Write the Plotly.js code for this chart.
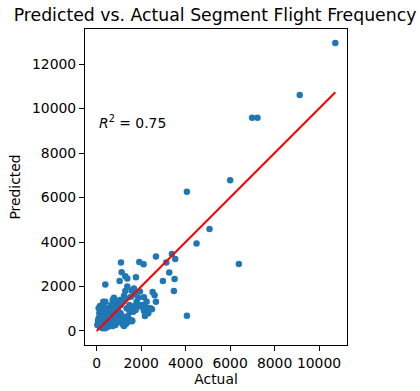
<!DOCTYPE html>
<html>
<head>
<meta charset="utf-8">
<script src="https://cdn.plot.ly/plotly-3.0.1.min.js"></script>
<style>html,body{margin:0;padding:0;background:#fff;}#chart{width:420px;height:391px;}</style>
</head>
<body>
<div id="chart"></div>
<script>
const actual = [10733,9132,6991,7231,6003,4057,5075,4491,6392,4057,3533,3383,2665,3129,3263,3503,2979,3473,2665,2605,2515,2425,2186,2201,2126,2066,1916,2111,1767,1677,1093,1123,1288,1377,1033,389,1751,1587,
1287,1377,1572,1542,1722,1871,1946,1048,1168,1228,1318,1078,958,853,719,779,644,539,599,479,419,329,299,389,225,120,180,269,150,90,240,359,449,539,659,749,838,928,1018,1078,1198,1258,1318,1228,1138,1407,1497,1617,1707,1796,1467,1347,1527,808,689,898,419,329,210,90,60,30,180,269,389,509,599,719,90,150,240,359,509,629,749,823,928,1916,2021,2171,2485,2246,2320,2291,2125,2170,1600,1766,1645,1466,1420,1195,1195,297,150,370,250,320];
const predicted = [12945,10605,9585,9585,6780,6255,4590,3930,3015,690,3240,3465,3345,3075,2625,2340,2250,1800,1320,1605,1755,1020,720,945,1515,1170,3105,3000,2415,1905,3075,2640,2460,2355,2250,2085,945,435,
1800,1995,1815,1545,1650,1500,1770,1395,1320,1575,1470,1170,975,1125,1395,1500,1170,1020,795,720,870,1095,1245,1320,795,795,645,570,420,270,315,225,375,465,570,465,270,375,570,795,645,465,315,225,375,675,870,915,1125,1320,1170,1020,495,675,870,720,570,465,495,570,465,270,195,120,120,195,270,225,1020,1125,975,825,915,1020,1095,1215,1320,1170,1095,1020,975,1320,795,1021,914,675,463,1066,869,945,419,270,450,1318,180,950,600,380];

const fitX = [0, 10733];
const fitY = [0, 10733];

const tickVals = [0,2000,4000,6000,8000,10000,12000];
const tickText = ["0","2000","4000","6000","8000","10000","12000"];

const font = {family: "DejaVu Sans", size: 13.9, color: "#000"};

const traces = [
  {x: actual, y: predicted, type: "scatter", mode: "markers",
   marker: {color: "#1f77b4", size: 6.5, line: {width: 0}}, showlegend: false},
  {x: fitX, y: fitY, type: "scatter", mode: "lines",
   line: {color: "red", width: 2}, showlegend: false}
];

const axisCommon = {
  showgrid: false, zeroline: false, showline: true, mirror: true,
  linecolor: "#000", linewidth: 1, ticks: "outside", ticklen: 5, tickwidth: 1,
  tickcolor: "#000", tickfont: font, tickmode: "array", tickvals: tickVals, ticktext: tickText
};

const layout = {
  width: 420, height: 391,
  margin: {l: 85, r: 73, t: 29, b: 46},
  paper_bgcolor: "#fff", plot_bgcolor: "#fff",
  font: font,
  title: {text: "Predicted vs. Actual Segment Flight Frequency", font: {family: "DejaVu Sans", size: 17.3, color: "#000"},
          x: 0.512, xanchor: "center", y: 0.962, yanchor: "middle"},
  xaxis: Object.assign({}, axisCommon, {range: [-525, 11258],
          title: {text: "Actual", font: font, standoff: 4}}),
  yaxis: Object.assign({}, axisCommon, {range: [-630, 13578],
          title: {text: "Predicted", font: font, standoff: 8}}),
  annotations: [{x: 0, y: 9400, xref: "x", yref: "y", xanchor: "left", yanchor: "middle",
    text: "<i>R</i><sup>2</sup> = 0.75", showarrow: false, font: font}]
};

Plotly.newPlot("chart", traces, layout, {displayModeBar: false, staticPlot: true});
</script>
</body>
</html>
